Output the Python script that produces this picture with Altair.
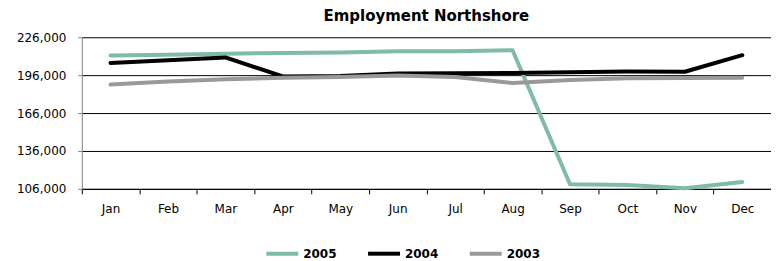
import altair as alt
import pandas as pd

months = ["Jan", "Feb", "Mar", "Apr", "May", "Jun", "Jul", "Aug", "Sep", "Oct", "Nov", "Dec"]
years = ["2005", "2004", "2003"]
y2005 = [211500, 212200, 213000, 213500, 214000, 215000, 215000, 215700, 109700, 109100, 106500, 111500]
y2004 = [205700, 207800, 210000, 195000, 195300, 197300, 197500, 197800, 198300, 198800, 198700, 211800]
y2003 = [188600, 191000, 192800, 194000, 194500, 195800, 194500, 189800, 192200, 193500, 193800, 194000]
colors = ["#80BBA9", "#000000", "#999999"]
y_ticks = [106000, 136000, 166000, 196000, 226000]

rows = []
for yr, vals in zip(years, [y2005, y2004, y2003]):
    for m, v in zip(months, vals):
        rows.append({"Month": m, "Year": yr, "Value": v})
df = pd.DataFrame(rows)

chart = (
    alt.Chart(df)
    .mark_line(strokeWidth=4, strokeJoin="round", strokeCap="round")
    .encode(
        x=alt.X(
            "Month:N",
            sort=months,
            title=None,
            scale=alt.Scale(paddingInner=0, paddingOuter=0),
            axis=alt.Axis(
                labelAngle=0,
                tickBand="extent",
                tickSize=5,
                tickColor="#000000",
                domainColor="#000000",
                labelPadding=10,
                labelFont="DejaVu Sans",
                labelFontSize=12,
                labelColor="#000000",
                grid=False,
            ),
        ),
        y=alt.Y(
            "Value:Q",
            title=None,
            scale=alt.Scale(domain=[106000, 226000], nice=False, zero=False),
            axis=alt.Axis(
                values=y_ticks,
                labelExpr="format(datum.value, ',')",
                tickSize=4,
                tickColor="#808080",
                domainColor="#808080",
                labelPadding=12,
                labelFont="DejaVu Sans",
                labelFontSize=12,
                labelColor="#000000",
                grid=True,
                gridColor="#000000",
                gridOpacity=1,
            ),
        ),
        color=alt.Color(
            "Year:N",
            sort=years,
            scale=alt.Scale(domain=years, range=colors),
            legend=alt.Legend(
                title=None,
                orient="none",
                direction="horizontal",
                legendX=183,
                legendY=199,
                symbolType="stroke",
                symbolSize=1024,
                symbolStrokeWidth=4,
                labelFont="DejaVu Sans",
                labelFontWeight="bold",
                labelFontSize=12,
                labelColor="#000000",
                labelOffset=3,
                columnPadding=23,
            ),
        ),
    )
    .properties(
        width=691,
        height=152,
        title=alt.TitleParams(
            "Employment Northshore",
            fontSize=15,
            fontWeight="bold",
            font="DejaVu Sans",
            color="#000000",
            anchor="middle",
            offset=7,
        ),
        background="white",
        autosize=alt.AutoSizeParams(type="none"),
        padding={"left": 74, "top": 29, "right": 0, "bottom": 72},
    )
    .configure_view(stroke=None)
)

chart.save("out.html", embed_options={"renderer": "svg", "actions": False})
